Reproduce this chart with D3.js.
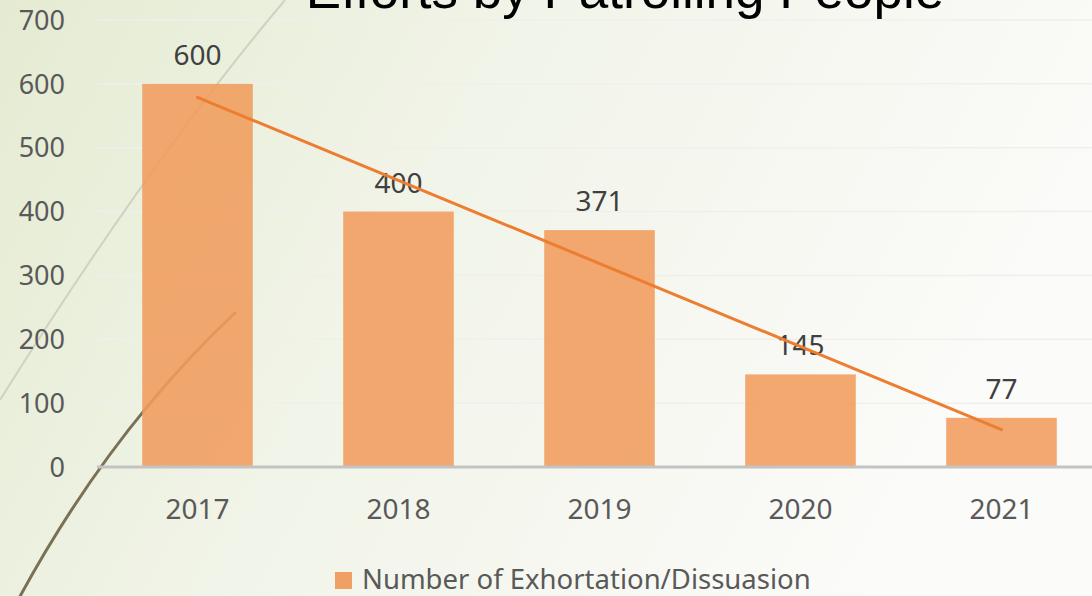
<!DOCTYPE html>
<html>
<head>
<meta charset="utf-8">
<script src="https://cdn.jsdelivr.net/npm/d3@7"></script>
<style>
  html, body { margin: 0; padding: 0; overflow: hidden; }
  svg { display: block; }
</style>
</head>
<body>
<div id="chart"></div>
<script>
// chart data
const years = ['2017', '2018', '2019', '2020', '2021'];
const exhortations = [600, 400, 371, 145, 77];
const yTicks = [0, 100, 200, 300, 400, 500, 600, 700];
const seriesName = 'Number of Exhortation/Dissuasion';
const title = 'Efforts by Patrolling People';

const W = 1092, H = 596;
const svg = d3.select('#chart').append('svg')
    .attr('width', W)
    .attr('height', H);

// background gradient, pale green on the left fading to white
const defs = svg.append('defs');
const bg = defs.append('linearGradient')
    .attr('id', 'bg')
    .attr('x1', '0%').attr('y1', '0%')
    .attr('x2', '100%').attr('y2', '30%');
bg.append('stop').attr('offset', '0%').attr('stop-color', '#e5ebd2');
bg.append('stop').attr('offset', '45%').attr('stop-color', '#f1f4e8');
bg.append('stop').attr('offset', '100%').attr('stop-color', '#fbfbf9');
svg.append('rect').attr('width', W).attr('height', H).attr('fill', 'url(#bg)');

const margin = { left: 97, right: -10, top: 20, bottom: 129 };
const x = d3.scaleBand()
    .domain(years)
    .range([margin.left, W - margin.right])
    .paddingInner(0.45)
    .paddingOuter(0.225);
const y = d3.scaleLinear()
    .domain([0, 700])
    .range([H - margin.bottom, margin.top]);

// gridlines
svg.append('g')
    .selectAll('line')
    .data(yTicks.slice(1))
    .join('line')
    .attr('x1', margin.left)
    .attr('x2', W)
    .attr('y1', d => y(d))
    .attr('y2', d => y(d))
    .attr('stroke', '#efefec')
    .attr('stroke-width', 1.5);

// decorative curves from the slide
svg.append('path')
    .attr('d', 'M0,400 Q150,160 285,0')
    .attr('fill', 'none')
    .attr('stroke', '#cfd2bf')
    .attr('stroke-width', 2);
svg.append('path')
    .attr('d', 'M18,600 Q110,430 236,312')
    .attr('fill', 'none')
    .attr('stroke', '#7a7055')
    .attr('stroke-width', 3);

// y tick labels
svg.append('g')
    .selectAll('text')
    .data(yTicks)
    .join('text')
    .attr('x', 65)
    .attr('y', d => y(d))
    .attr('dy', '0.36em')
    .attr('text-anchor', 'end')
    .attr('font-family', 'Noto Sans, sans-serif')
    .attr('font-size', 27)
    .attr('fill', '#595959')
    .text(d => d);

// bars
svg.append('g')
    .selectAll('rect')
    .data(exhortations)
    .join('rect')
    .attr('x', (d, i) => x(years[i]))
    .attr('y', d => y(d))
    .attr('width', x.bandwidth())
    .attr('height', d => y(0) - y(d))
    .attr('fill', '#f09c5c')
    .attr('fill-opacity', 0.88);

// x axis line
svg.append('line')
    .attr('x1', margin.left)
    .attr('x2', W)
    .attr('y1', y(0))
    .attr('y2', y(0))
    .attr('stroke', '#c3c3c3')
    .attr('stroke-width', 3);

// x labels
svg.append('g')
    .selectAll('text')
    .data(years)
    .join('text')
    .attr('x', d => x(d) + x.bandwidth() / 2)
    .attr('y', 519)
    .attr('text-anchor', 'middle')
    .attr('font-family', 'Noto Sans, sans-serif')
    .attr('font-size', 28)
    .attr('fill', '#595959')
    .text(d => d);

// data labels
svg.append('g')
    .selectAll('text')
    .data(exhortations)
    .join('text')
    .attr('x', (d, i) => x(years[i]) + x.bandwidth() / 2)
    .attr('y', d => y(d) - 19)
    .attr('text-anchor', 'middle')
    .attr('font-family', 'Noto Sans, sans-serif')
    .attr('font-size', 28)
    .attr('fill', '#404040')
    .text(d => d);

// linear trendline (least squares over the bar values)
const n = exhortations.length;
const xs = d3.range(1, n + 1);
const mx = d3.mean(xs), my = d3.mean(exhortations);
const slope = d3.sum(xs, (v, i) => (v - mx) * (exhortations[i] - my)) /
    d3.sum(xs, v => (v - mx) * (v - mx));
const icpt = my - slope * mx;
const trend = [1, n].map(v => ({ year: years[v - 1], value: icpt + slope * v }));
svg.append('path')
    .datum(trend)
    .attr('d', d3.line()
        .x(d => x(d.year) + x.bandwidth() / 2)
        .y(d => y(d.value)))
    .attr('fill', 'none')
    .attr('stroke', '#ed7d31')
    .attr('stroke-width', 3)
    .attr('stroke-linecap', 'round');

// title (cut off at the top, like the slide)
svg.append('text')
    .attr('x', 625)
    .attr('y', 8)
    .attr('text-anchor', 'middle')
    .attr('font-family', 'Liberation Sans, Arial, sans-serif')
    .attr('font-size', 53)
    .attr('fill', '#000')
    .text(title);

// legend
const legend = svg.append('g');
legend.append('rect')
    .attr('x', 335)
    .attr('y', 572)
    .attr('width', 17)
    .attr('height', 17)
    .attr('fill', '#f0a064');
legend.append('text')
    .attr('x', 362)
    .attr('y', 589)
    .attr('font-family', 'Noto Sans, sans-serif')
    .attr('font-size', 27.5)
    .attr('fill', '#595959')
    .text(seriesName);
</script>
</body>
</html>
